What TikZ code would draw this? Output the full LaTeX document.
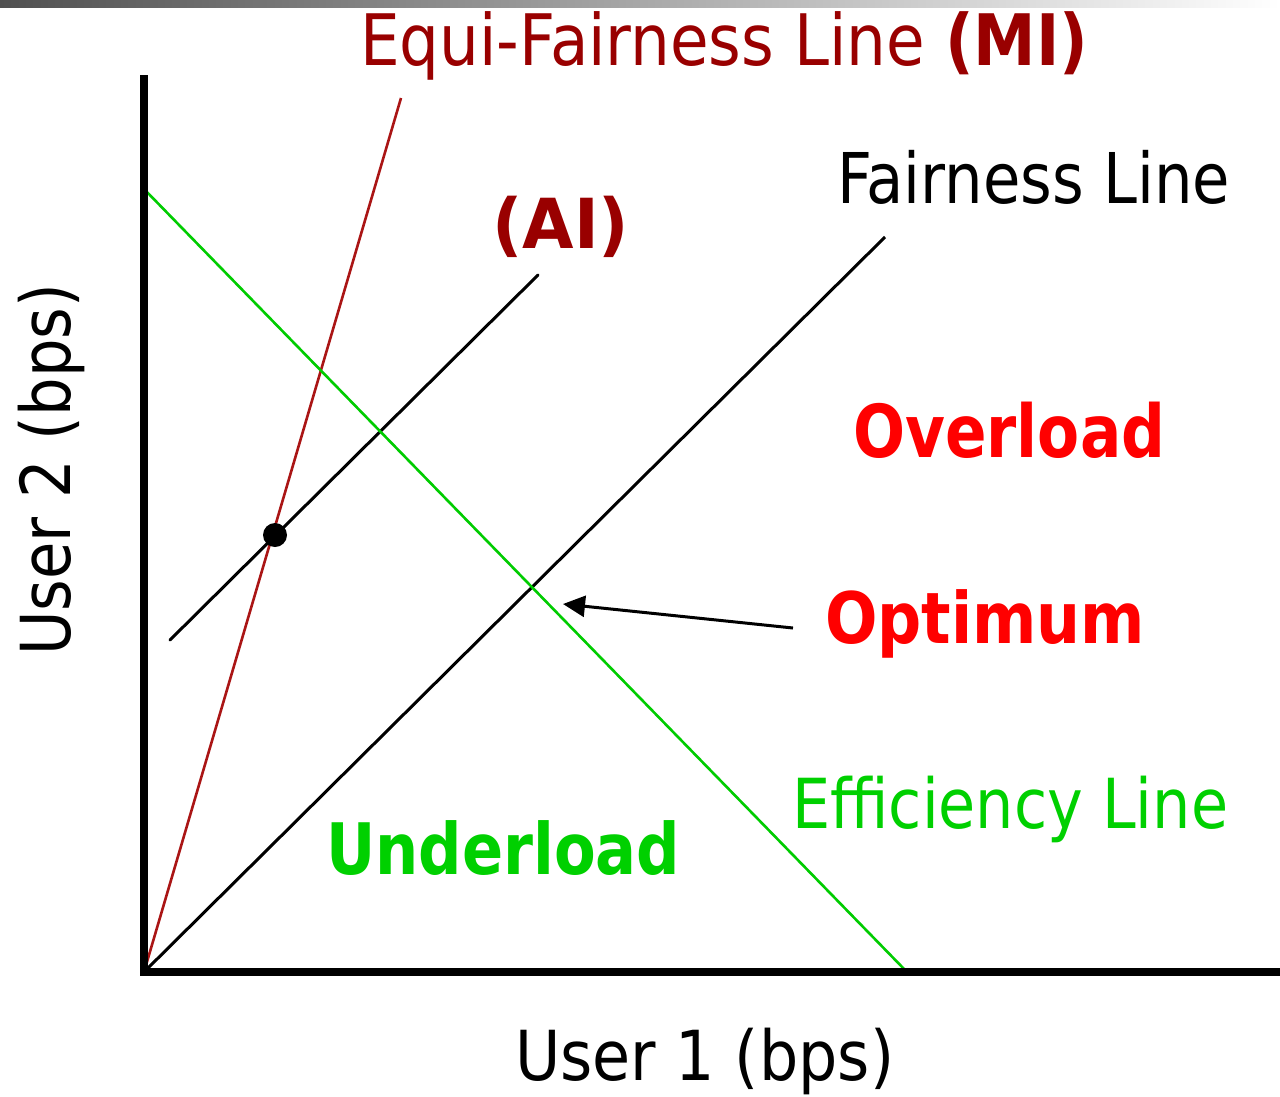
\documentclass[tikz,border=0pt]{standalone}
\usepackage{graphicx}
\usepackage{fontspec}
\setmainfont{DejaVu Sans}
\usetikzlibrary{arrows.meta}
\definecolor{txtdarkred}{HTML}{990000}
\definecolor{linered}{HTML}{AA1515}
\definecolor{effgreen}{HTML}{00CC00}
\definecolor{txtgreen}{HTML}{00D000}
\definecolor{txtred}{HTML}{FF0000}
\definecolor{bargray}{HTML}{505050}
\newcommand{\fitw}[2]{\resizebox{#1}{\height}{#2}}
\tikzset{
  lbl/.style={inner sep=0pt, anchor=base west},
  axisline/.style={line width=8pt, black},
  fairline/.style={line width=3pt, black},
  miline/.style={line width=2.6pt, linered},
  effline/.style={line width=2.6pt, effgreen},
}
\begin{document}
\begin{tikzpicture}[x=1pt,y=-1pt]
\useasboundingbox (0,0) rectangle (1280,1096);
\fill[white] (0,0) rectangle (1280,1096);
\shade[left color=bargray, right color=white] (0,0) rectangle (1280,7);

% key points
\coordinate (O) at (144,972);
\coordinate (ytop) at (144,75);
\coordinate (xend) at (1280,972);
\coordinate (effA) at (144,189);
\coordinate (effB) at (907,972);
\coordinate (miTop) at (401,98);
\coordinate (fairTop) at (885,237);
\coordinate (aiA) at (170,640);
\coordinate (aiB) at (538,275);
\coordinate (arrTail) at (793,628);
\coordinate (arrTip) at (563,604);

% lines
\draw[miline] (O) -- (miTop);
\draw[fairline] (O) -- (fairTop);
\draw[fairline, line cap=round] (aiA) -- (aiB);
\draw[effline] (effA) -- (effB);
\draw[axisline] (144,972) -- (ytop);
\draw[axisline] (140,972) -- (xend);
\fill[black] (275,535) circle (12pt) node (dot) {};
\draw[line width=3pt, -{Triangle[length=22pt,width=21pt]}] (arrTail) -- (arrTip);

% labels
\node[lbl, text=txtdarkred] (equi) at (360,65)
  {\fontsize{71}{80}\selectfont\fitw{728pt}{Equi-Fairness Line \textbf{(MI)}}};
\node[lbl, text=black] (fair) at (837,203)
  {\fontsize{70}{80}\selectfont\fitw{393pt}{Fairness Line}};
\node[lbl, text=txtdarkred] (ai) at (492,248)
  {\fontsize{69}{80}\selectfont\fitw{137pt}{\textbf{(AI)}}};
\node[lbl, text=txtred] (over) at (853,457)
  {\fontsize{73}{80}\selectfont\fitw{312pt}{\textbf{Overload}}};
\node[lbl, text=txtred] (opt) at (825,643)
  {\fontsize{71}{80}\selectfont\fitw{320pt}{\textbf{Optimum}}};
\node[lbl, text=txtgreen] (under) at (326,874)
  {\fontsize{71}{80}\selectfont\fitw{354pt}{\textbf{Underload}}};
\node[lbl, text=txtgreen] (eff) at (792,828)
  {\fontsize{69}{80}\selectfont\fitw{436pt}{Efficiency Line}};
\node[lbl, text=black] (u1) at (515,1080)
  {\fontsize{69}{80}\selectfont\fitw{379pt}{User 1 (bps)}};
\node[lbl, text=black, rotate=90] (u2) at (70,656)
  {\fontsize{69}{80}\selectfont\fitw{372pt}{User 2 (bps)}};
\end{tikzpicture}
\end{document}
